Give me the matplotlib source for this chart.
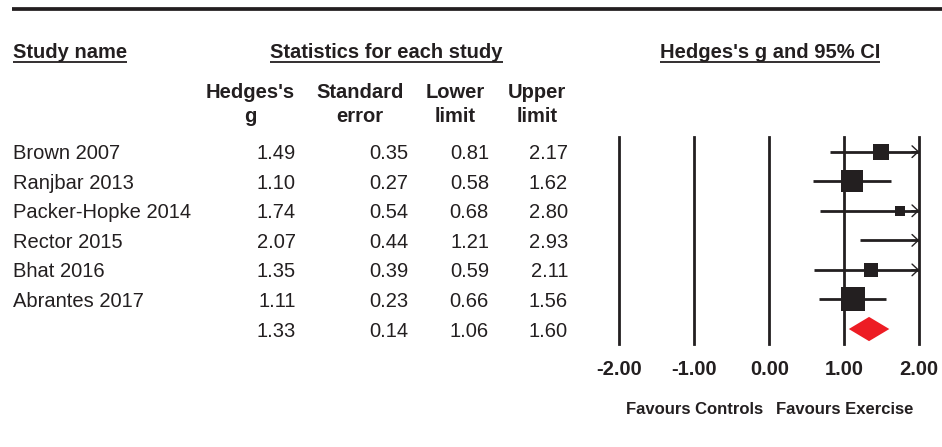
import matplotlib
matplotlib.use('Agg')
import matplotlib.pyplot as plt
from matplotlib.patches import Polygon
from matplotlib.transforms import blended_transform_factory

# data
studies = ['Brown 2007', 'Ranjbar 2013', 'Packer-Hopke 2014', 'Rector 2015',
           'Bhat 2016', 'Abrantes 2017']
hedges_g = [1.49, 1.10, 1.74, 2.07, 1.35, 1.11]
std_err = [0.35, 0.27, 0.54, 0.44, 0.39, 0.23]
lower = [0.81, 0.58, 0.68, 1.21, 0.59, 0.66]
upper = [2.17, 1.62, 2.80, 2.93, 2.11, 1.56]
pooled_g, pooled_se, pooled_lo, pooled_hi = 1.33, 0.14, 1.06, 1.60
ticks = [-2.0, -1.0, 0.0, 1.0, 2.0]

plt.rcParams['font.family'] = ['Liberation Sans', 'DejaVu Sans']
ink = '#231f20'
red = '#ed1c24'
fs = 14.5

fig = plt.figure(figsize=(9.42, 4.47), dpi=100)
# background axes in pixel units for the table text
bg = fig.add_axes([0, 0, 1, 1])
bg.set_xlim(0, 942)
bg.set_ylim(447, 0)
bg.axis('off')

# forest plot axes
ax = fig.add_axes([619.3 / 942, (447 - 343.8) / 447, 300 / 942, 206.9 / 447])
ax.set_xlim(-2, 2)
ax.set_ylim(6.5, -0.5)
ax.axis('off')

row_tr = blended_transform_factory(bg.transData, ax.transData)
tick_tr = blended_transform_factory(ax.transData, bg.transData)

# top rule
bg.plot([12, 942], [9, 9], color=ink, lw=2.7, solid_capstyle='butt')

# headers
heads = []
heads.append(bg.text(12.7, 57.5, 'Study name', fontsize=fs, weight='bold',
                     color=ink, va='baseline', ha='left'))
heads.append(bg.text(386.5, 57.5, 'Statistics for each study', fontsize=fs,
                     weight='bold', color=ink, va='baseline', ha='center'))
heads.append(bg.text(770, 57.5, "Hedges's g and 95% CI", fontsize=fs,
                     weight='bold', color=ink, va='baseline', ha='center'))

col_heads = [("Hedges's", 'g', 250), ('Standard', 'error', 360),
             ('Lower', 'limit', 455), ('Upper', 'limit', 537)]
for top, bot, x in col_heads:
    bg.text(x, 98, top, fontsize=fs, weight='bold', color=ink,
            ha='center', va='baseline')
    bg.text(x, 122, bot, fontsize=fs, weight='bold', color=ink,
            ha='center', va='baseline')

# table rows
col_right = [296, 408, 489, 568]
for i, name in enumerate(studies):
    ax.text(13, i, name, transform=row_tr, fontsize=fs, color=ink,
            ha='left', va='center_baseline')
    vals = [hedges_g[i], std_err[i], lower[i], upper[i]]
    for v, x in zip(vals, col_right):
        ax.text(x, i, f'{v:.2f}', transform=row_tr, fontsize=fs, color=ink,
                ha='right', va='center_baseline')
k = len(studies)
for v, x in zip([pooled_g, pooled_se, pooled_lo, pooled_hi], col_right):
    ax.text(x, k, f'{v:.2f}', transform=row_tr, fontsize=fs, color=ink,
            ha='right', va='center_baseline')

# vertical grid lines
for t in ticks:
    ax.axvline(t, color=ink, lw=2, clip_on=False)
    ax.text(t, 375, f'{t:.2f}', transform=tick_tr, fontsize=fs, weight='bold',
            color=ink, ha='center', va='baseline')

# study CIs and squares
for i in range(k):
    lo, hi, g = lower[i], upper[i], hedges_g[i]
    ax.plot([lo, min(hi, 2)], [i, i], color=ink, lw=2, solid_capstyle='butt')
    if hi > 2:
        # CI runs off the scale: thin chevron at the right edge
        ax.annotate('', xy=(2, i), xytext=(1.9, i),
                    arrowprops=dict(arrowstyle='->,head_length=0.45,head_width=0.42',
                                    lw=1, color=ink, shrinkA=0, shrinkB=0))
    if g <= 2:
        ax.plot(g, i, marker='s', ms=4.1 / std_err[i], color=ink, mec=ink,
                mew=0, ls='none', zorder=3)

# pooled diamond
ax.add_patch(Polygon([(pooled_lo, k), (pooled_g, k - 0.41), (pooled_hi, k),
                      (pooled_g, k + 0.41)], closed=True, fc=red, ec='none',
                     zorder=3))

ax.text(-1, 414, 'Favours Controls', transform=tick_tr, fontsize=12,
        weight='bold', color=ink, ha='center', va='baseline')
ax.text(1, 414, 'Favours Exercise', transform=tick_tr, fontsize=12,
        weight='bold', color=ink, ha='center', va='baseline')

# underline the section headers
fig.canvas.draw()
r = fig.canvas.get_renderer()
inv = bg.transData.inverted()
for t in heads:
    bb = t.get_window_extent(r)
    (x0, _), (x1, _) = inv.transform([[bb.x0, bb.y0], [bb.x1, bb.y1]])
    bg.plot([x0, x1], [62, 62], color=ink, lw=1.3, solid_capstyle='butt')

fig.savefig('out.png', dpi=100, facecolor='white')
